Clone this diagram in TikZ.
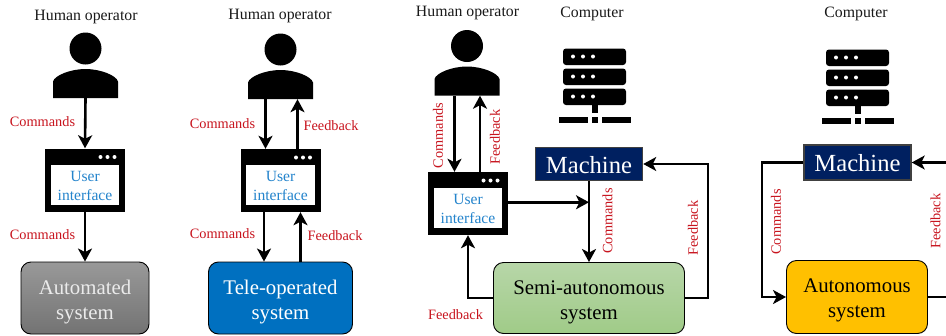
\documentclass[tikz,border=0pt]{standalone}
\usepackage{fontspec}
\setmainfont{Liberation Serif}
\usetikzlibrary{arrows.meta,calc}
\definecolor{lblred}{HTML}{C8141E}
\definecolor{uiblue}{HTML}{2484CC}
\definecolor{navy}{HTML}{002060}
\definecolor{sysblue}{HTML}{0070C0}
\definecolor{sysgold}{HTML}{FFC000}
\definecolor{sysgreentop}{HTML}{B7D6A8}
\definecolor{sysgreenbot}{HTML}{A0CB88}
\tikzset{
 flow/.style={line width=2.6pt,draw=black,-{Stealth[length=13pt,width=14pt,inset=3.5pt]}},
 wire/.style={line width=2.6pt,draw=black},
 heading/.style={font=\fontsize{15.8}{18}\selectfont,text=black!90,inner sep=0pt},
 lbl/.style={font=\fontsize{14.3}{16}\selectfont,text=lblred,inner sep=0pt},
 vlbl/.style={lbl,rotate=90},
 sysbox/.style={draw=black,line width=0.9pt,rounded corners=10pt,align=center,inner sep=0pt,font=\fontsize{20.8}{25}\selectfont},
 systext/.style={align=center,inner sep=0pt,font=\fontsize{20.8}{25}\selectfont},
 machinebox/.style={draw=black!75,line width=1.5pt,fill=navy,inner sep=0pt},
 machinetext/.style={text=white,inner sep=0pt,font=\fontsize{24.6}{28}\selectfont},
 bodybox/.style={inner sep=0pt,minimum width=65pt,minimum height=29pt},
 frame/.style={fill=black,inner sep=0pt,minimum width=80pt,minimum height=63pt},
 pane/.style={fill=white,inner sep=0pt,minimum width=68.5pt,minimum height=40pt},
 panetext/.style={inner sep=0pt,align=center,text=uiblue,font=\fontsize{15.6}{19}\selectfont},
}
% name, x, y of body centre
\newcommand{\personicon}[3]{
 \begin{scope}[shift={(#2,#3)}]
  \fill (0,-35) circle (16);
  \fill (-32.5,14.5) -- (-32.5,-2) .. controls (-31,-8) and (-15,-14.5) .. (0,-14.5) .. controls (15,-14.5) and (31,-8) .. (32.5,-2) -- (32.5,14.5) -- cycle;
  \node[bodybox] (#1) at (0,0) {};
 \end{scope}}
% name, x, y of centre
\newcommand{\windowicon}[3]{
 \node[frame] (#1) at (#2,#3) {};
 \begin{scope}[shift={(#2,#3)}]
  \node[pane] (#1p) at (0,4.5) {};
  \node[panetext] (#1t) at (0,5.5) {User\\interface};
  \foreach \dx in {15.5,22.5,29.5} \fill[white] (\dx,-23) circle (2);
 \end{scope}}
% centre x, top y
\newcommand{\servericon}[2]{
 \begin{scope}[shift={(#1,#2)}]
  \foreach \ty in {0,20,40}{
   \fill[rounded corners=3pt] (-31.5,\ty) rectangle (31.5,\ty+16.5);
   \foreach \dx in {-21.5,-11.5,-1.5} \fill[white] (\dx,\ty+8) circle (2);
  }
  \fill (-3,56) rectangle (3,64);
  \fill (-36,68) rectangle (-7,74);
  \fill (-3,68) rectangle (3,74);
  \fill (7,68) rectangle (36,74);
 \end{scope}}
\begin{document}
\begin{tikzpicture}[x=1pt,y=-1pt]
\clip (0,0) rectangle (946,335);
\fill[white] (0,0) rectangle (946,335);
% panel 1
\node[heading] (h1) at (86,17.5) {Human operator};
\personicon{p1}{85.5}{83.5}
\windowicon{ui1}{85}{180}
\node[sysbox,minimum width=128pt,minimum height=72pt,top color=black!40,bottom color=black!55] (s1) at (85,298) {};
\node[systext,text=white!92!black] (s1t) at (85,302) {Automated\\system};
\draw[flow] (p1.south) -- (ui1.north);
\draw[flow] (ui1.south) -- (s1.north);
\node[lbl] (l1) at (42.5,122) {Commands};
\node[lbl] (l2) at (42.5,235) {Commands};
% panel 2
\node[heading] (h2) at (280,16.5) {Human operator};
\personicon{p2}{280.5}{84.5}
\windowicon{ui2}{280.5}{180.5}
\node[sysbox,minimum width=144pt,minimum height=72pt,fill=sysblue] (s2) at (280.5,298) {};
\node[systext,text=white] (s2t) at (280.5,302) {Tele-operated\\system};
\draw[flow] ([xshift=-15pt]p2.south) -- ([xshift=-15pt]ui2.north);
\draw[flow] ([xshift=17pt]ui2.north) -- ([xshift=17pt]p2.south);
\draw[flow] ([xshift=-16.5pt]ui2.south) -- ([xshift=-16.5pt]s2.north);
\draw[flow] ([xshift=20pt]s2.north) -- ([xshift=20pt]ui2.south);
\node[lbl] (l3) at (222.5,124) {Commands};
\node[lbl] (l4) at (331,126) {Feedback};
\node[lbl] (l5) at (222.5,234) {Commands};
\node[lbl] (l6) at (335,236) {Feedback};
% panel 3
\node[heading] (h3) at (467.5,13.5) {Human operator};
\node[heading] (h4) at (592,13.5) {Computer};
\personicon{p3}{467}{81}
\windowicon{ui3}{468}{203.5}
\servericon{594.5}{48.5}
\node[machinebox,minimum width=107pt,minimum height=33pt] (m3) at (589,164) {};
\node[machinetext] (m3t) at (589,165) {Machine};
\node[sysbox,minimum width=191pt,minimum height=71pt,top color=sysgreentop,bottom color=sysgreenbot] (s3) at (589,298) {};
\node[systext,text=black] (s3t) at (589,302) {Semi-autonomous\\system};
\draw[flow] ([xshift=-12.5pt]p3.south) -- ([xshift=-13.5pt]ui3.north);
\draw[flow] ([xshift=12pt]ui3.north) -- ([xshift=13pt]p3.south);
\draw[flow] (m3.south) -- (s3.north);
\coordinate (j3) at ($(m3.south)+(0,21)$);
\draw[flow] (ui3.east |- j3) -- (j3);
\draw[flow] (s3.west) -| (ui3.south);
\coordinate (r3) at (708,298);
\draw[flow] (s3.east) -- (r3) |- (m3.east);
\node[vlbl] (l7) at (438,135.5) {Commands};
\node[vlbl] (l8) at (495,137) {Feedback};
\node[vlbl] (l9) at (607.5,221) {Commands};
\node[vlbl] (l10) at (693,228) {Feedback};
\node[lbl] (l11) at (455.5,315) {Feedback};
% panel 4
\node[heading] (h5) at (856,13.5) {Computer};
\servericon{857.5}{49.5}
\node[machinebox,minimum width=107pt,minimum height=35pt] (m4) at (857.5,162.5) {};
\node[machinetext] (m4t) at (857.5,163.5) {Machine};
\node[sysbox,minimum width=141pt,minimum height=73pt,fill=sysgold] (s4) at (857,297) {};
\node[systext,text=black] (s4t) at (857,300.5) {Autonomous\\system};
\coordinate (l4c) at (762,297);
\draw[flow] (m4.west) -- (l4c |- m4.west) -- (l4c) -- (s4.west);
\coordinate (r4a) at (950,162.5);
\coordinate (r4b) at (950,297);
\draw[flow] (r4a) -- (m4.east);
\draw[wire] (s4.east) -- (r4b);
\node[vlbl] (l12) at (776,222) {Commands};
\node[vlbl] (l13) at (935.5,221) {Feedback};
\end{tikzpicture}
\end{document}
